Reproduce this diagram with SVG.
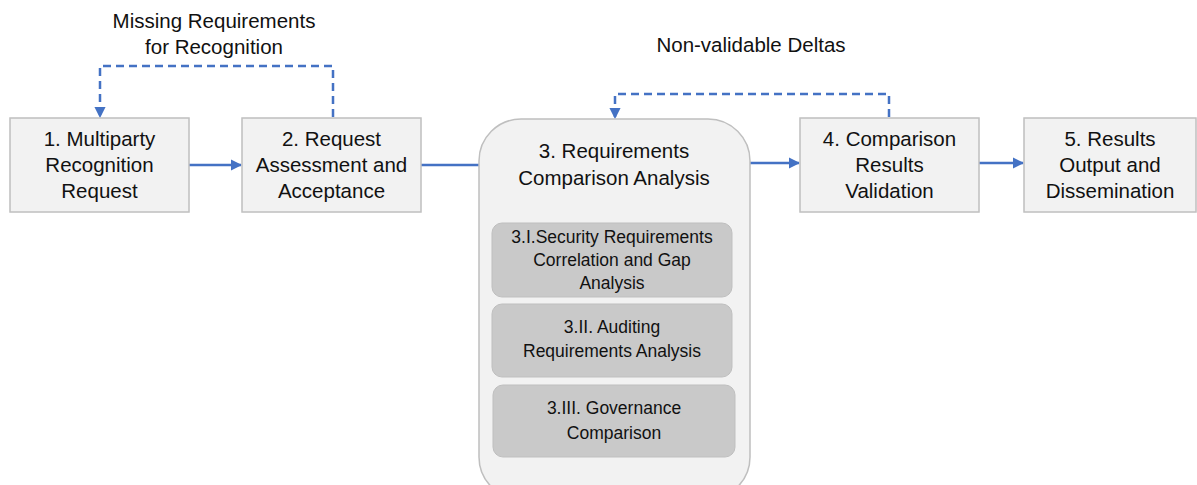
<svg xmlns="http://www.w3.org/2000/svg" width="1197" height="485" viewBox="0 0 1197 485">
<defs>
<marker id="ah" viewBox="0 0 10 10" refX="9" refY="5" markerWidth="4.5" markerHeight="4.5" orient="auto" markerUnits="strokeWidth">
<path d="M0,0 L10,5 L0,10 z" fill="#4472c4"/>
</marker>
<style>
.box{fill:#f2f2f2;stroke:#bfbfbf;stroke-width:1.5}
.inner{fill:#c9c9c9;stroke:#bfbfbf;stroke-width:1}
.t{font-family:"Liberation Sans",Arial,sans-serif;font-size:20.5px;fill:#111111;text-anchor:middle}
.ts{font-family:"Liberation Sans",Arial,sans-serif;font-size:17.5px;fill:#111111;text-anchor:middle}
.solid{stroke:#4472c4;stroke-width:2.5;fill:none}
.dash{stroke:#4472c4;stroke-width:2.5;fill:none;stroke-dasharray:8,5}
</style>
</defs>
<rect width="1197" height="485" fill="#ffffff"/>
<g id="connectors">
<line class="solid" x1="189" y1="165" x2="241" y2="165" marker-end="url(#ah)"/>
<line class="solid" x1="421" y1="165" x2="480" y2="165"/>
<line class="solid" x1="750" y1="163" x2="799" y2="163" marker-end="url(#ah)"/>
<line class="solid" x1="979" y1="163" x2="1023" y2="163" marker-end="url(#ah)"/>
<path class="dash" d="M333,117 L333,66 L100,66 L100,117" marker-end="url(#ah)"/>
<path class="dash" d="M889,117 L889,94 L615,94 L615,118" marker-end="url(#ah)"/>
</g>
<g id="label-missing">
<text class="t" x="214" y="28">Missing Requirements</text>
<text class="t" x="214" y="54">for Recognition</text>
</g>
<g id="label-nonvalid">
<text class="t" x="751" y="52">Non-validable Deltas</text>
</g>
<g id="node1">
<rect class="box" x="10" y="118" width="179" height="94"/>
<text class="t" x="99.5" y="146">1. Multiparty</text>
<text class="t" x="99.5" y="172">Recognition</text>
<text class="t" x="99.5" y="198">Request</text>
</g>
<g id="node2">
<rect class="box" x="242" y="118" width="179" height="94"/>
<text class="t" x="331.5" y="146">2. Request</text>
<text class="t" x="331.5" y="172">Assessment and</text>
<text class="t" x="331.5" y="198">Acceptance</text>
</g>
<g id="node3">
<rect class="box" x="479" y="119" width="271" height="380" rx="42" ry="42"/>
<text class="t" x="614" y="158">3. Requirements</text>
<text class="t" x="614" y="185">Comparison Analysis</text>
</g>
<g id="node3-1">
<rect class="inner" x="492" y="223" width="240" height="74" rx="10" ry="10"/>
<text class="ts" x="612" y="243">3.I.Security Requirements</text>
<text class="ts" x="612" y="266">Correlation and Gap</text>
<text class="ts" x="612" y="289">Analysis</text>
</g>
<g id="node3-2">
<rect class="inner" x="492" y="304" width="240" height="73" rx="10" ry="10"/>
<text class="ts" x="612" y="333">3.II. Auditing</text>
<text class="ts" x="612" y="357">Requirements Analysis</text>
</g>
<g id="node3-3">
<rect class="inner" x="493" y="385" width="242" height="72" rx="10" ry="10"/>
<text class="ts" x="614" y="414">3.III. Governance</text>
<text class="ts" x="614" y="439">Comparison</text>
</g>
<g id="node4">
<rect class="box" x="800" y="118" width="179" height="94"/>
<text class="t" x="889.5" y="146">4. Comparison</text>
<text class="t" x="889.5" y="172">Results</text>
<text class="t" x="889.5" y="198">Validation</text>
</g>
<g id="node5">
<rect class="box" x="1024" y="118" width="172" height="94"/>
<text class="t" x="1110" y="146">5. Results</text>
<text class="t" x="1110" y="172">Output and</text>
<text class="t" x="1110" y="198">Dissemination</text>
</g>
</svg>
